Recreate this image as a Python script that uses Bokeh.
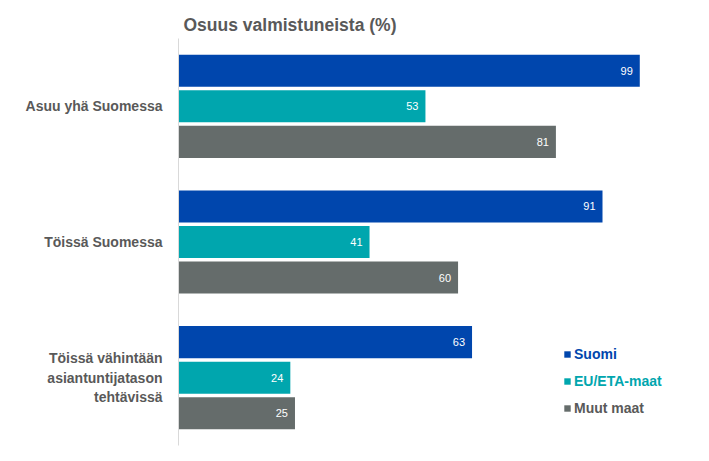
from bokeh.plotting import figure
from bokeh.models import ColumnDataSource, FactorRange, Legend, LegendItem
from bokeh.transform import dodge
from bokeh.embed import file_html
from bokeh.resources import INLINE
from bokeh.core.properties import value

categories = ["Asuu yhä Suomessa", "Töissä Suomessa", "Töissä vähintään\nasiantuntijatason\ntehtävissä"]
series = ["Suomi", "EU/ETA-maat", "Muut maat"]
suomi = [99, 91, 63]
eu_eta = [53, 41, 24]
muut = [81, 60, 25]
colors = ["#0046AD", "#00A6AE", "#656C6B"]
text_colors = ["#0046AD", "#00A6AE", "#595959"]

FONT = "Liberation Sans"
GREY = "#595959"

src = ColumnDataSource(dict(cat=categories, suomi=suomi, eu=eu_eta, muut=muut,
                            suomi_t=[str(v) for v in suomi],
                            eu_t=[str(v) for v in eu_eta],
                            muut_t=[str(v) for v in muut]))

y_range = FactorRange(factors=list(reversed(categories)), range_padding=0)

p = figure(width=701, height=453, y_range=y_range, x_range=(0, 110.1),
           output_backend="svg", toolbar_location=None,
           min_border_left=178, min_border_right=10, min_border_top=38, min_border_bottom=8)

p.title.text = "Osuus valmistuneista (%)"
p.title.text_font = FONT
p.title.text_font_size = "17.5px"
p.title.text_color = GREY
p.title.text_font_style = "bold"
p.title.align = "left"
p.title.offset = 5
p.title.standoff = 8

pitch = 0.262
h = 0.236
renderers = []
for i, (col, c) in enumerate(zip(["suomi", "eu", "muut"], colors)):
    off = pitch * (1 - i)
    r = p.hbar(y=dodge("cat", off, range=p.y_range), right=col, left=0, height=h,
               source=src, fill_color=c, line_color=None)
    renderers.append(r)
    p.text(x=col, y=dodge("cat", off, range=p.y_range), text=col + "_t", source=src,
           x_offset=-7, text_align="right", text_baseline="middle",
           text_color="white", text_font=value(FONT), text_font_size="11px")

legend_y = [83, 56, 29]
for r, name, tc, ly in zip(renderers, series, text_colors, legend_y):
    lg = Legend(items=[LegendItem(label=name, renderers=[r])], location=(385, ly),
                orientation="vertical", padding=0, margin=0, spacing=0,
                glyph_width=8, glyph_height=8, label_height=16, label_standoff=3,
                label_text_font=FONT, label_text_font_size="14px",
                label_text_font_style="bold", label_text_color=tc,
                border_line_alpha=0, background_fill_alpha=0)
    p.add_layout(lg)

p.xaxis.visible = False
p.xgrid.grid_line_color = None
p.ygrid.grid_line_color = None
p.outline_line_color = None
yax = p.yaxis[0]
yax.axis_line_color = "#D9D9D9"
yax.major_tick_line_color = None
yax.minor_tick_line_color = None
yax.major_label_text_font = FONT
yax.major_label_text_font_size = "14px"
yax.major_label_text_font_style = "bold"
yax.major_label_text_color = GREY
yax.major_label_standoff = 10

open("out.html", "w").write(file_html(p, INLINE))
